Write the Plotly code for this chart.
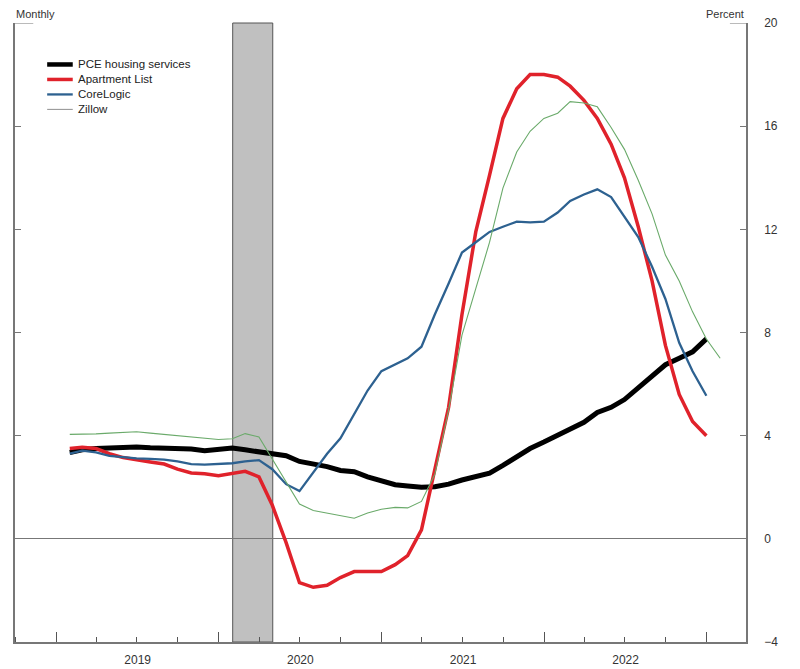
import pandas as pd
import plotly.graph_objects as go

# monthly, 12-month percent change; points placed at month end
months = pd.date_range("2019-01-01", periods=49, freq="MS") + pd.offsets.MonthEnd(1)

pce_housing = [3.35, 3.45, 3.5, 3.52, 3.55, 3.56, 3.53, 3.52, 3.53, 3.48, 3.42, 3.45,
               3.52, 3.45, 3.38, 3.28, 3.22, 3.0, 2.92, 2.8, 2.65, 2.6, 2.4, 2.25,
               2.1, 2.05, 2.0, 2.02, 2.12, 2.28, 2.4, 2.55, 2.85, 3.2, 3.5, 3.75,
               4.0, 4.25, 4.52, 4.9, 5.1, 5.4, 5.85, 6.3, 6.75, 7.0, 7.25, 7.75]

apartment_list = [3.5, 3.55, 3.5, 3.3, 3.15, 3.05, 2.98, 2.9, 2.7, 2.55, 2.52, 2.45,
                  2.55, 2.62, 2.4, 1.3, -0.15, -1.7, -1.88, -1.8, -1.5, -1.27, -1.27, -1.27,
                  -1.0, -0.65, 0.35, 2.7, 5.1, 8.7, 11.9, 14.1, 16.3, 17.45, 18.0, 18.0,
                  17.9, 17.55, 17.0, 16.3, 15.3, 14.0, 12.1, 10.0, 7.5, 5.6, 4.55, 4.0]

corelogic = [3.3, 3.42, 3.35, 3.22, 3.17, 3.12, 3.1, 3.07, 3.0, 2.9, 2.88, 2.9,
             2.93, 3.0, 3.05, 2.7, 2.12, 1.85, 2.6, 3.3, 3.9, 4.85, 5.75, 6.5,
             6.75, 7.0, 7.45, 8.7, 9.9, 11.1, 11.5, 11.9, 12.1, 12.3, 12.27, 12.3,
             12.65, 13.1, 13.35, 13.55, 13.25, 12.5, 11.7, 10.55, 9.3, 7.6, 6.5, 5.55]

zillow = [4.05, 4.05, 4.07, 4.1, 4.13, 4.15, 4.1, 4.05, 4.02, 3.95, 3.9, 3.85,
          3.88, 4.08, 3.95, 3.1, 2.2, 1.35, 1.1, 1.0, 0.9, 0.8, 1.0, 1.15,
          1.22, 1.2, 1.45, 2.5, 5.0, 7.9, 9.7, 11.5, 13.6, 15.0, 15.8, 16.3,
          16.5, 16.95, 16.9, 16.75, 15.95, 15.1, 13.9, 12.6, 11.0, 10.0, 8.8, 7.75, 7.0]

recession = ["2020-02-01", "2020-05-01"]

series = [
    ("PCE housing services", pce_housing, "#000000", 5),
    ("Apartment List", apartment_list, "#e0222b", 3.5),
    ("CoreLogic", corelogic, "#2d6190", 2.3),
    ("Zillow", zillow, "#6aaa6a", 1.1),
]

font = "Liberation Sans, Arial, sans-serif"

fig = go.Figure()
for name, vals, color, width in series:
    fig.add_trace(go.Scatter(x=months[:len(vals)], y=vals, name=name, mode="lines",
                             line=dict(color=color, width=width), showlegend=False))

# hand-drawn legend: short line sample + label, stacked from the top
for k, (name, vals, color, width) in enumerate(series):
    ly = 0.933 - k * 0.0242
    sample_color = "#999999" if name == "Zillow" else color
    fig.add_shape(type="line", xref="paper", yref="paper", x0=0.044, x1=0.079, y0=ly, y1=ly,
                  line=dict(color=sample_color, width=min(width, 4.5)))
    fig.add_annotation(text=name, xref="paper", yref="paper", x=0.084, y=ly,
                       xanchor="left", yanchor="middle", showarrow=False,
                       font=dict(family=font, size=11.5, color="#222222"))

# recession shading
fig.add_shape(type="rect", xref="x", yref="paper", x0=recession[0], x1=recession[1], y0=0, y1=1,
              fillcolor="#c0c0c0", line=dict(color="#555555", width=1), layer="below")

# longer top ticks on both sides
fig.add_shape(type="line", xref="paper", yref="y", x0=0, x1=0.025, y0=20, y1=20,
              line=dict(color="#777777", width=1))
fig.add_shape(type="line", xref="paper", yref="y", x0=0.978, x1=1, y0=20, y1=20,
              line=dict(color="#777777", width=1))

fig.add_annotation(text="Monthly", xref="paper", yref="paper", x=-0.002, y=1.0, yshift=1,
                   xanchor="left", yanchor="bottom", showarrow=False,
                   font=dict(family=font, size=11, color="#333333"))
fig.add_annotation(text="Percent", xref="paper", yref="paper", x=1.0, y=1.0, yshift=1,
                   xanchor="right", yanchor="bottom", showarrow=False,
                   font=dict(family=font, size=11, color="#333333"))

# the page body adds an 8px margin, so margins are offset to keep the plot box in place
fig.update_layout(
    width=800, height=669,
    margin=dict(l=5, r=62, t=15, b=35),
    paper_bgcolor="white", plot_bgcolor="white",
    font=dict(family=font, size=12, color="#333333"),
    xaxis=dict(
        range=["2018-09-30", "2023-03-30"],
        tick0="2019-01-01", dtick="M12", tickformat="%Y", ticklabelmode="period",
        ticks="inside", ticklen=10, tickcolor="#555555",
        minor=dict(dtick="M3", ticks="inside", ticklen=5, tickcolor="#555555"),
        showline=True, linecolor="#777777", linewidth=1.5,
        showgrid=False, zeroline=False, ticklabelstandoff=6,
        tickfont=dict(family=font, size=12, color="#333333"),
    ),
    yaxis=dict(
        side="right", range=[-4, 20], tick0=-4, dtick=4,
        ticks="inside", ticklen=6, tickcolor="#777777",
        showline=True, linecolor="#777777", linewidth=1.5, mirror="ticks",
        showgrid=False, zeroline=True, zerolinecolor="#777777", zerolinewidth=1,
        ticklabelstandoff=14,
        tickfont=dict(family=font, size=12, color="#333333"),
    ),
)

fig.write_html("out.html")
